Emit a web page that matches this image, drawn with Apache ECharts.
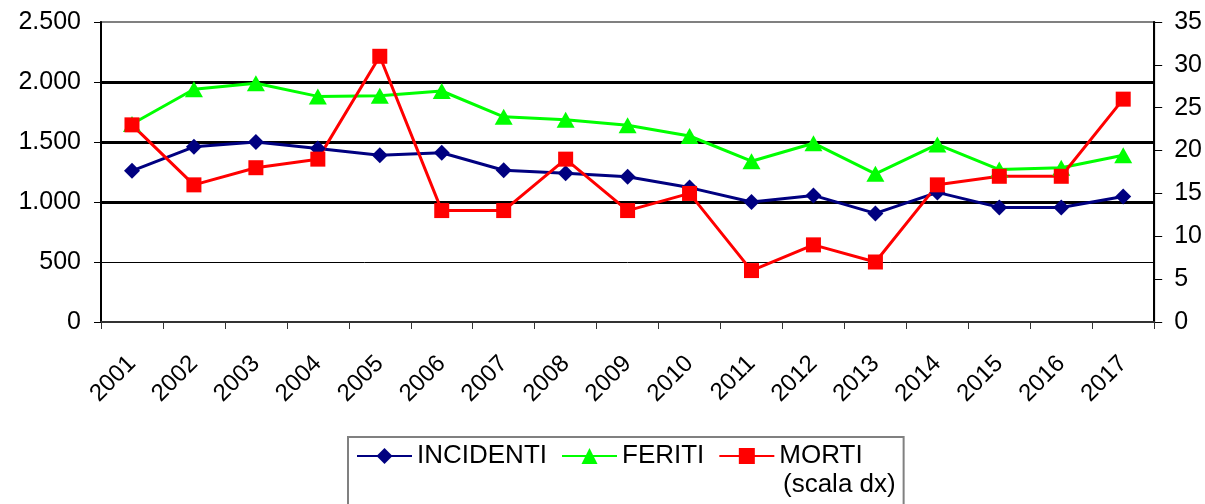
<!DOCTYPE html>
<html>
<head>
<meta charset="utf-8">
<script src="https://cdn.jsdelivr.net/npm/echarts@6/dist/echarts.min.js"></script>
<style>
  html, body { margin: 0; padding: 0; background: #fff; }
  #chart { width: 1205px; height: 504px; }
</style>
</head>
<body>
<div id="chart"></div>
<script>
const years = ["2001", "2002", "2003", "2004", "2005", "2006", "2007", "2008", "2009",
  "2010", "2011", "2012", "2013", "2014", "2015", "2016", "2017"];
const incidenti = [1260, 1460, 1500, 1445, 1390, 1410, 1265, 1240, 1210, 1120, 1000, 1055, 905, 1080, 955, 955, 1045];
const feriti = [1650, 1940, 1990, 1880, 1885, 1925, 1710, 1685, 1640, 1550, 1340, 1490, 1235, 1480, 1270, 1285, 1390];
const morti = [23, 16, 18, 19, 31, 13, 13, 19, 13, 15, 6, 9, 7, 16, 17, 17, 26];
// gridlines drawn thicker on the left scale
const thickGrid = [1000, 1500, 2000];

const font = "Liberation Sans, Arial, sans-serif";

function thousands(v) {
  return String(v).replace(/\B(?=(\d{3})+(?!\d))/g, ".");
}

const option = {
  animation: false,
  backgroundColor: "#fff",
  textStyle: { fontFamily: font, color: "#000" },
  grid: {
    left: 101,
    right: 50,
    top: 22,
    bottom: 182,
    show: true,
    borderColor: "#808080",
    borderWidth: 2,
    backgroundColor: "#fff",
  },
  legend: {
    left: 348,
    top: 437,
    orient: "horizontal",
    padding: [6, 41, 40, 8],
    itemWidth: 55,
    itemHeight: 20,
    itemGap: 14,
    borderColor: "#808080",
    borderWidth: 2,
    lineStyle: { width: 2 },
    textStyle: { fontFamily: font, fontSize: 26, color: "#000" },
    data: ["INCIDENTI", "FERITI", "MORTI"],
  },
  graphic: [
    {
      type: "text",
      left: 783,
      top: 472,
      style: { text: "(scala dx)", font: "26px " + font, fill: "#000" },
    },
  ],
  xAxis: {
    type: "category",
    data: years,
    boundaryGap: true,
    axisLine: { lineStyle: { color: "#333", width: 2 } },
    axisTick: { show: true, length: 7, lineStyle: { color: "#333", width: 1 } },
    axisLabel: {
      rotate: 45,
      margin: 38,
      fontSize: 24,
      fontFamily: font,
      color: "#000",
      interval: 0,
    },
    splitLine: { show: false },
  },
  yAxis: [
    {
      type: "value",
      min: 0,
      max: 2500,
      interval: 500,
      position: "left",
      axisLine: { show: true, lineStyle: { color: "#000", width: 2 } },
      axisTick: { show: true, length: 7, lineStyle: { color: "#000" } },
      axisLabel: {
        fontSize: 25,
        fontFamily: font,
        color: "#000",
        margin: 20,
        formatter: thousands,
      },
      splitLine: {
        show: true,
        showMaxLine: false,
        lineStyle: { color: "#000", width: 1 },
      },
    },
    {
      type: "value",
      min: 0,
      max: 35,
      interval: 5,
      position: "right",
      axisLine: { show: true, lineStyle: { color: "#000", width: 2 } },
      axisTick: { show: true, length: 8, lineStyle: { color: "#000" } },
      axisLabel: { fontSize: 25, fontFamily: font, color: "#000", margin: 20 },
      splitLine: { show: false },
    },
  ],
  series: [
    {
      name: "INCIDENTI",
      type: "line",
      yAxisIndex: 0,
      data: incidenti,
      symbol: "diamond",
      symbolSize: 16,
      lineStyle: { color: "#000080", width: 3 },
      itemStyle: { color: "#000080" },
      markLine: {
        silent: true,
        z: 1,
        symbol: ["none", "none"],
        label: { show: false },
        lineStyle: { color: "#000", width: 3, type: "solid" },
        data: thickGrid.map((v) => ({ yAxis: v })),
      },
    },
    {
      name: "FERITI",
      type: "line",
      yAxisIndex: 0,
      data: feriti,
      symbol: "triangle",
      symbolSize: [18, 16],
      lineStyle: { color: "#00ff00", width: 3 },
      itemStyle: { color: "#00ff00" },
    },
    {
      name: "MORTI",
      type: "line",
      yAxisIndex: 1,
      data: morti,
      symbol: "rect",
      symbolSize: 15,
      lineStyle: { color: "#ff0000", width: 3 },
      itemStyle: { color: "#ff0000" },
    },
  ],
};

const myChart = echarts.init(document.getElementById("chart"));
myChart.setOption(option);
</script>
</body>
</html>
